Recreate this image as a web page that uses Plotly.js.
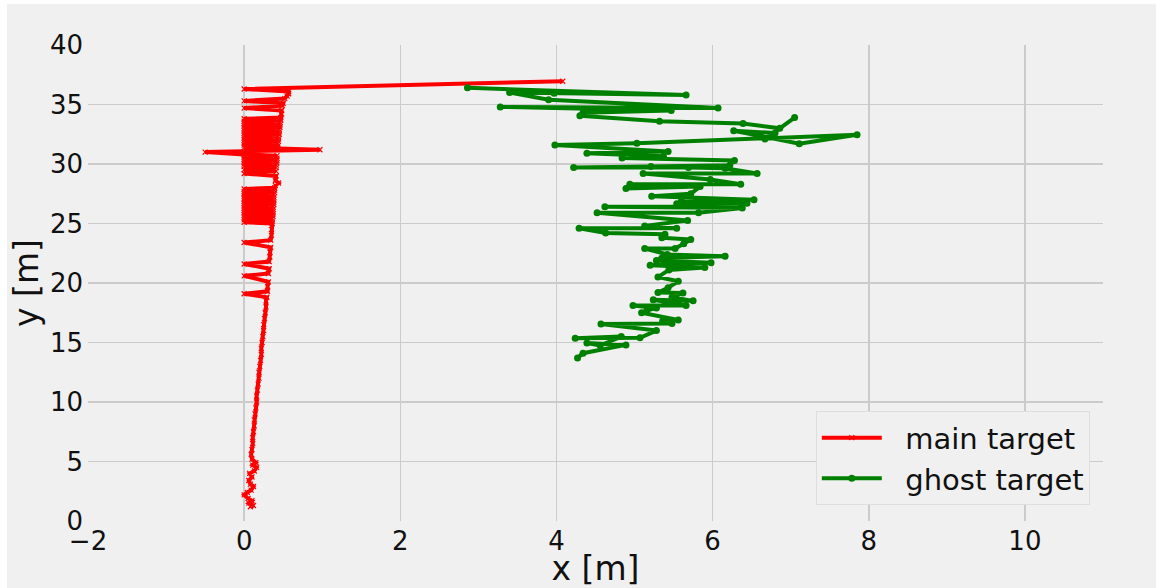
<!DOCTYPE html>
<html>
<head>
<meta charset="utf-8">
<script src="https://cdn.plot.ly/plotly-3.0.1.min.js"></script>
<style>
html,body{margin:0;padding:0;background:#ffffff;}
#chart{position:absolute;left:7px;top:4px;width:1149px;height:584px;}
</style>
</head>
<body>
<div id="chart"></div>
<script>
// main target trajectory
var mainX = [0.08,0.12,0.06,0.10,0.05,0.00,0.04,0.09,0.12,0.08,0.06,0.10,0.07,0.13,0.16,0.11,0.15,0.10,0.09,
  0.10,0.11,0.11,0.12,0.13,0.13,0.14,0.15,0.16,0.16,0.17,0.18,0.19,0.19,0.20,0.21,0.22,0.22,0.23,0.24,0.25,0.25,0.26,0.27,0.28,0.28,
  0.29,0.00,0.30,0.30,0.31,0.00,0.31,0.32,0.00,0.32,0.33,0.33,0.34,0.00,0.34,0.35,0.35,
  0.36,0.00,0.36,0.00,0.36,0.00,0.37,0.00,0.37,0.00,0.37,0.00,0.37,0.00,0.37,0.00,0.38,0.00,0.38,0.00,0.38,0.00,0.38,0.00,0.38,0.00,0.39,0.00,0.39,0.00,0.39,
  0.40,0.44,0.40,0.41,0.00,0.41,0.00,0.41,0.00,0.41,0.00,0.42,0.00,0.42,0.00,0.42,0.00,0.42,0.00,
  -0.50,0.97,0.43,0.00,0.43,0.00,0.43,0.00,0.44,0.00,0.44,0.00,0.44,0.00,0.45,0.00,0.45,0.00,0.45,0.00,0.46,0.00,0.46,0.00,0.46,0.00,0.47,0.00,0.47,
  0.48,0.48,0.00,0.49,0.50,0.00,0.52,0.55,0.57,0.57,0.00,4.08];
var mainY = [1.2,1.3,1.5,1.7,1.9,2.2,2.4,2.6,2.9,3.1,3.4,3.7,4.0,4.2,4.5,4.7,4.9,5.2,5.6,
  6.0,6.5,7.0,7.5,8.0,8.5,9.0,9.5,10.0,10.5,11.0,11.5,12.0,12.5,13.0,13.5,14.0,14.5,15.0,15.5,16.0,16.5,17.0,17.5,18.0,18.5,
  18.8,19.1,19.3,19.7,20.1,20.6,20.8,21.2,21.6,21.8,22.2,22.6,23.0,23.4,23.6,24.0,24.5,
  25.0,25.1,25.2,25.3,25.4,25.5,25.6,25.7,25.8,25.9,26.0,26.1,26.2,26.3,26.4,26.5,26.6,26.7,26.8,26.9,27.0,27.1,27.2,27.3,27.4,27.5,27.6,27.7,27.8,27.9,28.0,
  28.2,28.4,28.6,29.0,29.2,29.4,29.5,29.7,29.8,29.9,30.0,30.1,30.2,30.3,30.4,30.5,30.6,30.7,30.8,
  31.0,31.2,31.3,31.4,31.5,31.6,31.7,31.8,31.9,32.0,32.1,32.2,32.3,32.4,32.5,32.6,32.7,32.8,32.9,33.0,33.1,33.2,33.3,33.4,33.5,33.6,33.7,33.8,33.9,
  34.2,34.5,34.7,34.9,35.1,35.3,35.5,35.7,35.9,36.1,36.3,36.95];

// ghost target trajectory
var ghostX = [4.27,4.34,4.89,4.39,4.56,4.83,4.24,5.07,5.28,4.57,5.48,5.36,5.56,5.09,5.16,5.28,4.98,5.66,5.24,5.75,5.48,5.62,5.30,5.43,5.56,5.30,5.44,5.90,5.20,5.98,5.28,5.35,6.16,5.42,5.13,5.52,5.63,5.72,5.35,5.39,4.63,4.29,5.54,5.13,5.68,4.52,5.82,6.38,4.62,6.37,5.54,6.44,5.60,6.53,5.22,5.72,5.84,4.89,4.94,6.36,5.97,5.11,6.57,6.16,5.69,4.22,5.21,6.22,6.28,4.84,5.37,4.39,5.43,3.98,5.03,7.85,7.11,6.27,6.80,6.67,7.05,6.86,6.39,5.32,4.30,4.34,5.47,3.28,6.07,3.90,3.40,3.97,5.66,2.86];
var ghostY = [13.7,14.1,14.8,14.95,14.75,15.5,15.35,15.4,16.0,16.55,16.6,16.8,16.9,17.5,17.7,17.9,18.1,18.1,18.6,18.5,18.8,19.15,19.2,19.6,20.15,20.5,21.1,21.3,21.5,21.7,21.9,22.1,22.25,22.4,22.9,22.9,23.3,23.65,23.8,24.1,24.2,24.6,24.6,24.8,25.25,25.9,25.9,26.3,26.4,26.4,26.65,26.7,26.9,27.0,27.3,27.5,28.1,27.95,28.3,28.3,28.7,29.2,29.2,29.65,29.7,29.7,29.8,29.9,30.3,30.5,30.65,30.9,31.05,31.6,31.75,32.45,31.7,32.8,32.6,32.1,33.9,33.0,33.4,33.6,34.05,34.3,34.5,34.8,34.7,35.4,36.0,35.95,35.8,36.4];

var seriesNames = ['main target', 'ghost target'];
var xTicks = [-2,0,2,4,6,8,10];
var yTicks = [0,5,10,15,20,25,30,35,40];

var FONT = 'DejaVu Sans, sans-serif';
var PAD = '\u00a0\u00a0';

var traces = [
  {x: mainX, y: mainY, name: PAD + seriesNames[0], type: 'scatter', mode: 'lines+markers',
   line: {color: '#ff0000', width: 4},
   marker: {symbol: 'x-thin', size: 5, color: '#ff0000', line: {color: '#ff0000', width: 1.2}}},
  {x: ghostX, y: ghostY, name: PAD + seriesNames[1], type: 'scatter', mode: 'lines+markers',
   line: {color: '#008000', width: 4},
   marker: {symbol: 'circle', size: 7, color: '#008000'}}
];

var layout = {
  width: 1149, height: 584,
  margin: {l: 81, r: 53, t: 41, b: 67},
  paper_bgcolor: '#f0f0f0', plot_bgcolor: '#f0f0f0',
  font: {family: FONT, color: '#111111', size: 26},
  showlegend: true,
  xaxis: {range: [-2, 11], tickvals: xTicks, ticktext: xTicks.map(function(v){return v < 0 ? '\u2212' + Math.abs(v) : String(v);}),
    showgrid: true, gridcolor: '#cbcbcb', gridwidth: 1.5, zeroline: false, showline: false,
    ticks: '', ticklabelstandoff: 2,
    tickfont: {family: FONT, size: 26, color: '#111111'},
    title: {text: 'x [m]', font: {family: FONT, size: 33, color: '#111111'}, standoff: 4}},
  yaxis: {range: [0, 40], tickvals: yTicks, ticktext: yTicks.map(String),
    showgrid: true, gridcolor: '#cbcbcb', gridwidth: 1.5, zeroline: false, showline: false,
    ticks: '', ticklabelstandoff: 4,
    tickfont: {family: FONT, size: 26, color: '#111111'},
    title: {text: 'y [m]', font: {family: FONT, size: 33, color: '#111111'}, standoff: 6}},
  legend: {x: 0.987, y: 0.033, xanchor: 'right', yanchor: 'bottom',
    bgcolor: '#f0f0f0', bordercolor: '#dedede', borderwidth: 1,
    font: {family: FONT, size: 29, color: '#111111'}, itemwidth: 60, tracegroupgap: 0}
};

Plotly.newPlot('chart', traces, layout, {displayModeBar: false, staticPlot: true});
</script>
</body>
</html>
